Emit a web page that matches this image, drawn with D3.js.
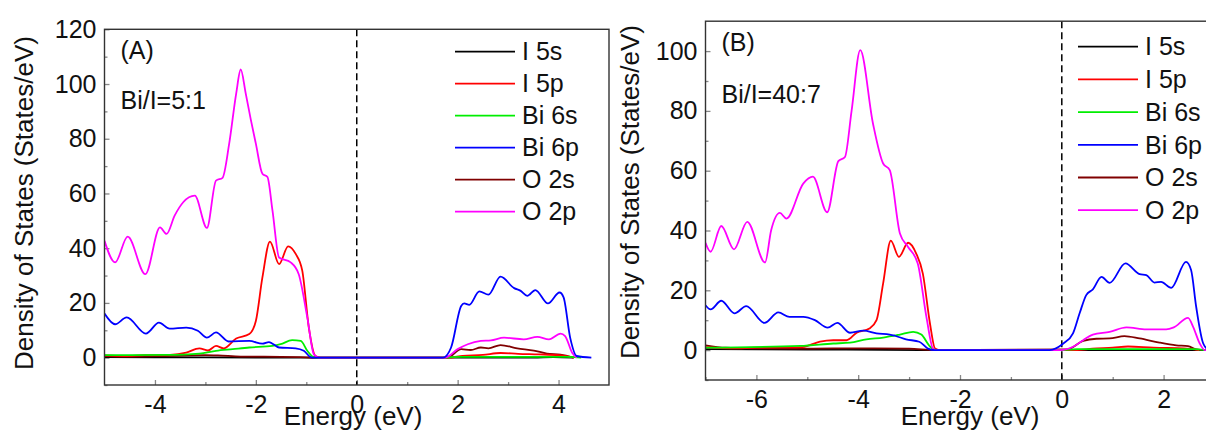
<!DOCTYPE html>
<html>
<head>
<meta charset="utf-8">
<script src="https://cdn.jsdelivr.net/npm/d3@7"></script>
<style>
  html, body { margin: 0; padding: 0; background: #fff; }
  svg { display: block; }
  text { font-family: Arial, "Liberation Sans", sans-serif; fill: #111; }
</style>
</head>
<body>
<svg id="chart" width="1206" height="433"></svg>
<script>
// Projected density of states, [energy (eV), DOS (states/eV)]
const seriesNames = ["I 5s", "I 5p", "Bi 6s", "Bi 6p", "O 2s", "O 2p"];
const seriesColors = ["#000000", "#ff0000", "#00ee00", "#0000ff", "#800000", "#ff00ff"];

// Panel A: Bi/I = 5:1
const aI5s = [[-5,0.2],[-3,0.1],[-0.8,0],[3.5,0],[3.9,0.2],[4.3,0]];
const aI5p = [[-5,0.8],[-4.6,0.6],[-4.2,0.9],[-3.7,1.0],[-3.38,1.8],[-3.12,3.4],[-2.95,2.6],[-2.79,4.3],[-2.64,3.4],[-2.39,7.0],[-2.13,8.6],[-2.0,13.4],[-1.87,29.3],[-1.72,42.4],[-1.54,34.2],[-1.36,40.7],[-1.21,37.9],[-1.08,31.8],[-0.95,11],[-0.82,0.6],[-0.72,0],[1.8,0],[2.1,0.6],[2.5,1.0],[2.85,1.7],[3.2,1.4],[3.6,1.2],[4.0,0.9],[4.3,0]];
const aBi6s = [[-5,0.9],[-3.77,1.0],[-3.12,1.5],[-2.79,2.5],[-2.46,3.1],[-2.13,3.7],[-1.67,4.3],[-1.51,4.9],[-1.28,6.4],[-1.11,6.1],[-0.98,2.5],[-0.85,0.2],[-0.75,0],[1.8,0],[2.0,0.3],[4.2,0.3],[4.45,0]];
const aBi6p = [[-5,16.1],[-4.79,12.2],[-4.56,14.7],[-4.18,8.8],[-3.92,12.8],[-3.71,10.6],[-3.38,11.0],[-3.15,9.8],[-2.97,7.3],[-2.79,9.2],[-2.54,5.9],[-2.13,6.1],[-1.87,5.1],[-1.74,5.7],[-1.54,3.7],[-1.21,3.4],[-1.05,2.5],[-0.89,0],[1.71,0],[1.87,3.7],[2.07,18.9],[2.13,19.8],[2.23,19.3],[2.43,24.2],[2.61,23.0],[2.85,29.6],[3.12,25.4],[3.25,24.4],[3.38,22.6],[3.54,24.7],[3.79,19.8],[4.02,23.8],[4.1,22.0],[4.23,7.3],[4.36,0.6],[4.65,0]];
const aO2s = [[-5,0.6],[-4.5,0.4],[-3.8,0.6],[-3.0,0.9],[-2.75,0.8],[-2.3,0.4],[-1.5,0.3],[-1.0,0.1],[-0.8,0],[1.8,0],[2.07,3.1],[2.26,2.8],[2.46,3.7],[2.61,3.4],[2.85,4.6],[3.18,3.4],[3.51,2.6],[3.77,1.5],[4.04,1.1],[4.3,0]];
const aO2p = [[-5.0,42.7],[-4.79,34.8],[-4.54,44.2],[-4.19,30.5],[-3.90,47.6],[-3.77,45.2],[-3.61,51.9],[-3.44,56.8],[-3.21,59.2],[-2.97,47.4],[-2.79,64.7],[-2.66,65.7],[-2.53,78],[-2.39,96.5],[-2.30,105.3],[-2.2,96.5],[-2.1,87],[-2.0,78.2],[-1.87,67.2],[-1.77,66.0],[-1.67,53.7],[-1.54,36.6],[-1.31,34.8],[-1.15,30.5],[-0.98,14.7],[-0.85,1.2],[-0.75,0],[1.75,0],[2.0,3.1],[2.2,4.9],[2.46,6.1],[2.66,6.3],[2.92,7.3],[3.31,6.7],[3.58,7.6],[3.81,6.7],[4.04,8.8],[4.13,7.9],[4.27,1.8],[4.36,0]];

// Panel B: Bi/I = 40:7
const bI5s = [[-7,0.3],[-5,0.2],[-2.5,0],[3,0]];
const bI5p = [[-7,1.0],[-6.5,0.6],[-6,0.8],[-5.5,0.9],[-5.1,1.0],[-4.95,1.7],[-4.75,2.8],[-4.49,3.3],[-4.23,3.3],[-4.03,5.8],[-3.78,7.2],[-3.64,10],[-3.51,22.3],[-3.36,36.6],[-3.2,31.2],[-3.02,35.9],[-2.86,32.3],[-2.73,25.6],[-2.59,8.9],[-2.49,0.5],[-2.4,0],[0.3,0],[0.6,0.5],[1.0,0.8],[1.3,1.2],[1.8,0.8],[2.4,0.6],[2.7,0]];
const bBi6s = [[-7,0.8],[-5.14,1.4],[-4.49,2.2],[-4.16,2.5],[-3.84,3.6],[-3.51,4.2],[-3.18,5.2],[-2.92,6.1],[-2.76,5.2],[-2.59,1.2],[-2.45,0],[0,0],[0.3,0.3],[2.6,0.3],[2.8,0]];
const bBi6p = [[-7,15.0],[-6.9,13.6],[-6.69,16.5],[-6.43,12.3],[-6.2,14.7],[-5.84,9.1],[-5.57,12.6],[-5.35,11.1],[-5.08,11.1],[-4.85,10.0],[-4.6,7.5],[-4.41,9.1],[-4.16,5.8],[-3.9,6.5],[-3.64,5.6],[-3.38,5.2],[-3.28,4.8],[-3.06,3.6],[-2.8,2.8],[-2.63,0.5],[-2.5,0],[-0.24,0],[0.03,2.2],[0.22,5.6],[0.35,12.3],[0.48,18.4],[0.61,20.3],[0.78,24.5],[0.94,22.5],[1.25,29.0],[1.53,25.4],[1.66,25.1],[1.82,22.6],[1.95,22.8],[2.15,20.8],[2.44,29.5],[2.54,26.8],[2.64,14.5],[2.78,2.2],[2.9,0],[3,0]];
const bO2s = [[-7,1.6],[-6.6,0.8],[-6,0.6],[-5,0.5],[-4,0.6],[-3,0.5],[-2.5,0],[0.1,0.2],[0.42,3.1],[0.68,3.8],[0.94,3.9],[1.23,4.7],[1.53,3.9],[1.92,2.5],[2.25,1.6],[2.48,1.3],[2.64,0.2],[2.75,0]];
const bO2p = [[-7.0,35.9],[-6.9,32.9],[-6.69,41.5],[-6.44,33.7],[-6.18,42.9],[-5.83,29.3],[-5.71,40.1],[-5.54,45.9],[-5.41,44.0],[-5.08,55.7],[-4.89,58.0],[-4.61,46.1],[-4.39,63.2],[-4.26,64.6],[-4.13,80],[-3.96,100.3],[-3.71,75.8],[-3.51,62.4],[-3.38,60.2],[-3.18,39.0],[-3.02,34.5],[-2.83,29.0],[-2.66,11.1],[-2.53,0.5],[-2.45,0],[-0.03,0],[0.22,1.1],[0.42,3.3],[0.61,5.2],[0.94,6.1],[1.27,7.6],[1.66,6.9],[2.05,6.9],[2.2,7.6],[2.48,10.8],[2.58,7.8],[2.71,2.2],[2.81,0],[3,0]];

// Axis ticks
const aXTicks = [-4, -2, 0, 2, 4];
const aXMinor = [-3, -1, 1, 3];
const aYTicks = [0, 20, 40, 60, 80, 100, 120];
const aYMinor = [-10, 10, 30, 50, 70, 90, 110];
const bXTicks = [-6, -4, -2, 0, 2];
const bXMinor = [-7, -5, -3, -1, 1];
const bYTicks = [0, 20, 40, 60, 80, 100];
const bYMinor = [-10, 10, 30, 50, 70, 90];

const svg = d3.select("#chart");

// Series are stacked so the Bi 6p trace sits on top along the gap
const drawOrder = [0, 4, 1, 2, 5, 3];

// plain hyphen for negative tick labels
const tickText = d => String(d);

function drawPanel(p) {
  const x = d3.scaleLinear().domain(p.xDomain).range([p.left, p.right]);
  const y = d3.scaleLinear().domain(p.yDomain).range([p.bottom, p.top]);
  const g = svg.append("g");

  const clipId = "clip-" + p.id;
  svg.append("clipPath").attr("id", clipId)
    .append("rect")
    .attr("x", p.left).attr("y", p.top)
    .attr("width", p.right - p.left).attr("height", p.bottom - p.top);

  // ticks (pointing inward)
  const fs = "25px";
  const xAx = g.append("g").attr("transform", `translate(0,${p.bottom})`)
    .call(d3.axisBottom(x).tickValues(p.xTicks).tickSize(-5).tickPadding(10).tickFormat(tickText));
  const xAxMinor = g.append("g").attr("transform", `translate(0,${p.bottom})`)
    .call(d3.axisBottom(x).tickValues(p.xMinor).tickSize(-3).tickFormat(""));
  const yAx = g.append("g").attr("transform", `translate(${p.left},0)`)
    .call(d3.axisLeft(y).tickValues(p.yTicks).tickSize(-5).tickPadding(8).tickFormat(tickText));
  const yAxMinor = g.append("g").attr("transform", `translate(${p.left},0)`)
    .call(d3.axisLeft(y).tickValues(p.yMinor).tickSize(-3).tickFormat(""));
  [xAx, xAxMinor, yAx, yAxMinor].forEach(a => {
    a.select(".domain").remove();
    a.selectAll(".tick line").attr("stroke", "#888").attr("stroke-width", 1.3);
    a.selectAll("text").style("font-size", fs).attr("fill", "#111")
      .style("font-family", "Arial, 'Liberation Sans', sans-serif");
  });

  // Fermi level
  g.append("line")
    .attr("x1", x(0)).attr("x2", x(0))
    .attr("y1", p.top).attr("y2", p.bottom)
    .attr("stroke", "#000").attr("stroke-width", 1.5)
    .attr("stroke-dasharray", "7,4");

  // DOS curves
  const line = d3.line()
    .x(d => x(d[0])).y(d => y(d[1]))
    .curve(d3.curveMonotoneX);
  const curves = g.append("g").attr("clip-path", `url(#${clipId})`);
  drawOrder.forEach(i => {
    curves.append("path")
      .datum(p.series[i])
      .attr("d", line)
      .attr("fill", "none")
      .attr("stroke", seriesColors[i])
      .attr("stroke-width", 1.8)
      .attr("stroke-linejoin", "round");
  });

  // frame
  g.append("rect")
    .attr("x", p.left).attr("y", p.top)
    .attr("width", p.right - p.left).attr("height", p.bottom - p.top)
    .attr("fill", "none").attr("stroke", "#333").attr("stroke-width", 1.4);

  // legend
  const lg = g.append("g");
  seriesNames.forEach((name, i) => {
    const yy = p.legendY + i * p.legendStep;
    lg.append("line")
      .attr("x1", p.legendX).attr("x2", p.legendX + 60)
      .attr("y1", yy).attr("y2", yy)
      .attr("stroke", seriesColors[i]).attr("stroke-width", 1.8);
    lg.append("text")
      .attr("x", p.legendX + 67).attr("y", yy)
      .attr("dy", "0.35em")
      .style("font-size", "25px")
      .text(name);
  });

  // labels
  g.append("text").attr("x", p.left + 16).attr("y", p.top + 30)
    .style("font-size", "25px").text(p.tag);
  g.append("text").attr("x", p.left + 16).attr("y", p.ratioY)
    .style("font-size", "25px").text(p.ratio);

  g.append("text")
    .attr("x", p.xTitleX).attr("y", 425)
    .attr("text-anchor", "middle")
    .style("font-size", "26px")
    .text("Energy (eV)");
  g.append("text")
    .attr("transform", `translate(${p.yTitleX},${p.yTitleY}) rotate(-90)`)
    .attr("text-anchor", "middle")
    .style("font-size", "26px")
    .text("Density of States (States/eV)");
}

drawPanel({
  id: "a",
  xDomain: [-5, 5], yDomain: [-10, 120],
  left: 104.5, right: 609, top: 29.3, bottom: 385,
  xTicks: aXTicks, xMinor: aXMinor, yTicks: aYTicks, yMinor: aYMinor,
  series: [aI5s, aI5p, aBi6s, aBi6p, aO2s, aO2p],
  legendX: 455, legendY: 51.7, legendStep: 32,
  tag: "(A)", ratio: "Bi/I=5:1", ratioY: 109,
  xTitleX: 353, yTitleX: 33, yTitleY: 203
});

drawPanel({
  id: "b",
  xDomain: [-7, 3], yDomain: [-10, 110],
  left: 705.5, right: 1214.5, top: 21.2, bottom: 380,
  xTicks: bXTicks, xMinor: bXMinor, yTicks: bYTicks, yMinor: bYMinor,
  series: [bI5s, bI5p, bBi6s, bBi6p, bO2s, bO2p],
  legendX: 1078, legendY: 46.7, legendStep: 32.7,
  tag: "(B)", ratio: "Bi/I=40:7", ratioY: 103,
  xTitleX: 970, yTitleX: 639, yTitleY: 192
});
</script>
</body>
</html>
